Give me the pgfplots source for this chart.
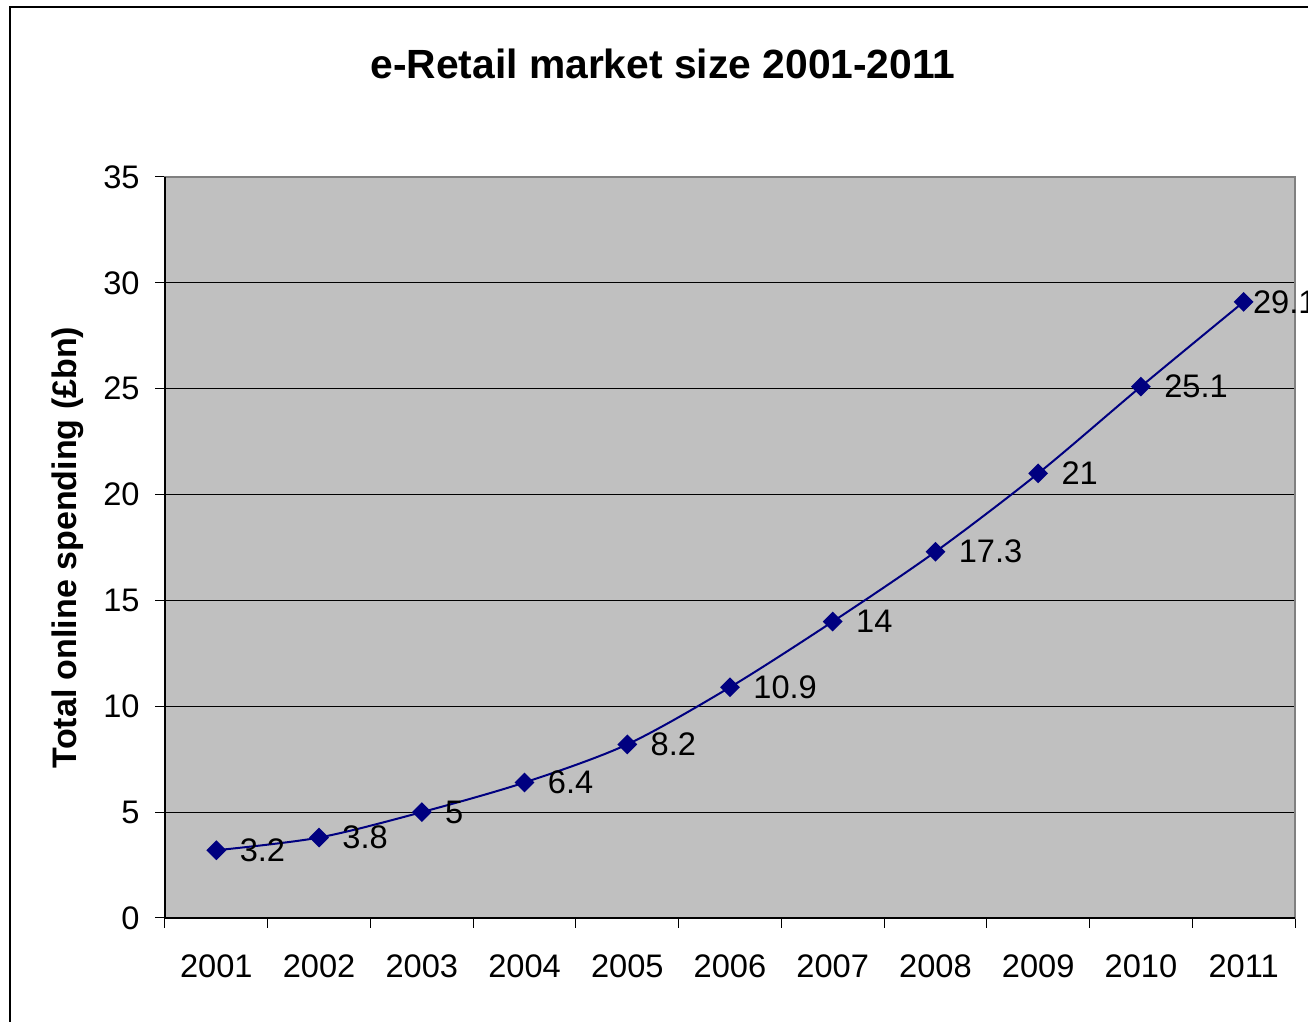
\documentclass[border=0pt]{standalone}
\usepackage{pgfplots}
\pgfplotsset{compat=1.18}
\usepackage{fontspec}
\setmainfont{Liberation Sans}
\definecolor{plotbg}{HTML}{C0C0C0}
\definecolor{navyline}{HTML}{000080}
\definecolor{bordergray}{HTML}{808080}
\pgfplotsset{/pgf/number format/assume math mode=true}
\begin{document}
\begin{tikzpicture}
\path[use as bounding box] (0pt,0pt) rectangle (654pt,511pt);
\draw[line width=1pt] (5pt,0pt) -- (5pt,507.5pt) -- (654pt,507.5pt);
\node[font=\fontsize{20.4}{24}\selectfont\bfseries] at (331.5pt,479pt) {e-Retail market size 2001-2011};
\begin{axis}[
  at={(82.5pt,52pt)}, anchor=south west,
  scale only axis, width=565pt, height=370.5pt,
  xmin=-0.5, xmax=10.5, ymin=0, ymax=35,
  xtick={-0.5,0.5,...,10.5},
  x tick label as interval,
  xticklabels={2001,2002,2003,2004,2005,2006,2007,2008,2009,2010,2011},
  ytick={0,5,...,35},
  xtick pos=bottom, ytick pos=left,
  tick align=outside, major tick length=5pt,
  tick style={black, line width=0.5pt},
  ymajorgrids, major grid style={black, line width=0.5pt},
  axis background/.style={fill=plotbg},
  axis line style={draw=bordergray, line width=1pt},
  tick label style={font=\fontsize{16.3}{19}\selectfont},
  xticklabel style={inner sep=0pt, anchor=north, yshift=-13pt},
  yticklabel style={inner sep=0pt, anchor=east, xshift=-7.5pt},
  ylabel={Total online spending (£bn)},
  ylabel style={at={(axis description cs:-0.0858,0.5)}, anchor=center, rotate=0, font=\fontsize{17}{20}\selectfont\bfseries},
  clip=false,
]
\draw[black, line width=0.8pt] (rel axis cs:0,1) -- (rel axis cs:0,0) -- (rel axis cs:1,0);
\addplot[navyline, line width=1pt, smooth, tension=0.5, mark=square*, mark size=3pt, mark options={rotate=45, fill=navyline, draw=navyline}]
  coordinates {(0,3.2) (1,3.8) (2,5) (3,6.4) (4,8.2) (5,10.9) (6,14) (7,17.3) (8,21) (9,25.1) (10,29.1)};
\addplot[draw=none, mark=none, nodes near coords, every node near coord/.style={anchor=west, inner sep=0pt, xshift=11.5pt, font=\fontsize{16.3}{19}\selectfont, black}]
  coordinates {(0,3.2) (1,3.8) (2,5) (3,6.4) (4,8.2) (5,10.9) (6,14) (7,17.3) (8,21) (9,25.1)};
\addplot[draw=none, mark=none, nodes near coords, every node near coord/.style={anchor=west, inner sep=0pt, xshift=4.5pt, font=\fontsize{16.3}{19}\selectfont, black}]
  coordinates {(10,29.1)};
\end{axis}
\end{tikzpicture}
\end{document}
